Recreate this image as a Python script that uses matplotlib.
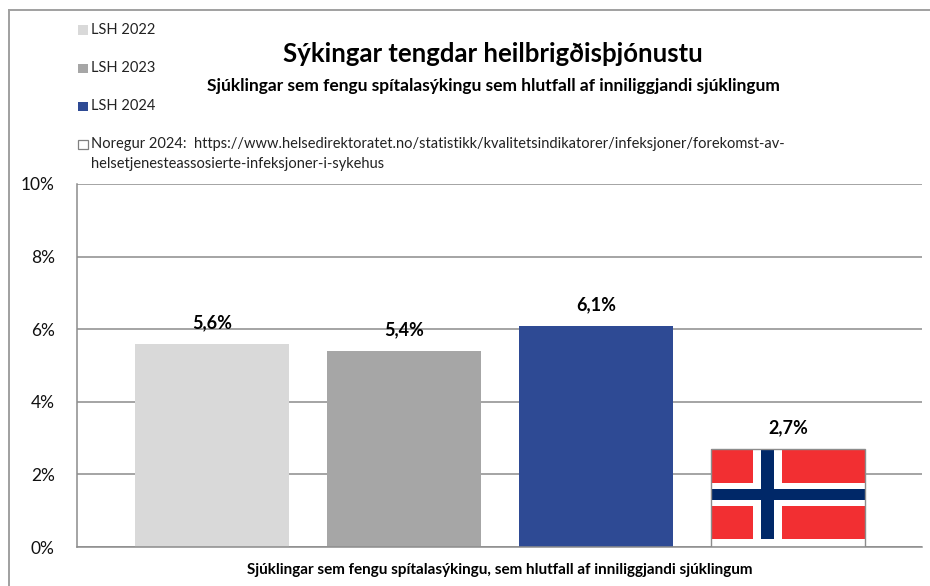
import matplotlib
matplotlib.use("Agg")
import matplotlib.pyplot as plt
from matplotlib.patches import Rectangle

series = ["LSH 2022", "LSH 2023", "LSH 2024"]
norway_note = ["Noregur 2024:  https://www.helsedirektoratet.no/statistikk/kvalitetsindikatorer/infeksjoner/forekomst-av-",
               "helsetjenesteassosierte-infeksjoner-i-sykehus"]
values = [5.6, 5.4, 6.1, 2.7]
labels = ["5,6%", "5,4%", "6,1%", "2,7%"]
yticks = [0, 2, 4, 6, 8, 10]
ytick_labels = ["0%", "2%", "4%", "6%", "8%", "10%"]
title = "Sýkingar tengdar heilbrigðisþjónustu"
subtitle = "Sjúklingar sem fengu spítalasýkingu sem hlutfall af inniliggjandi sjúklingum"
xlabel = "Sjúklingar sem fengu spítalasýkingu, sem hlutfall af inniliggjandi sjúklingum"

W, H = 930, 586
plt.rcParams['font.family'] = ['Lato', 'DejaVu Sans']
GRAY = "#8c8c8c"
colors = ["#d9d9d9", "#a6a6a6", "#2e4a94", "white"]

fig = plt.figure(figsize=(W / 100, H / 100), dpi=100, facecolor="white")
fx = lambda px: px / W
fy = lambda py: 1 - py / H

# chart frame
for (x0, y0, x1, y1) in [(9, 9.5, W, 9.5), (9, 9.5, 9, H)]:
    fig.add_artist(plt.Line2D([fx(x0), fx(x1)], [fy(y0), fy(y1)], color="#a0a0a0", lw=1.4))

ax = fig.add_axes([fx(77), fy(547), (922 - 77) / W, (547 - 184) / H])
ax.set_xlim(-0.703, 3.698)
ax.set_ylim(0, 10)
ax.set_axisbelow(True)
ax.grid(axis="y", color=GRAY, lw=1.1)
ax.set_yticks(yticks, ytick_labels, fontsize=12.5, color="#111111")
ax.set_xticks([])
ax.tick_params(axis="y", length=0, pad=16)
for s in ["top", "right"]:
    ax.spines[s].set_visible(False)
for s in ["left", "bottom"]:
    ax.spines[s].set_color(GRAY)
    ax.spines[s].set_linewidth(1.1)

xs = list(range(len(values)))
bars = ax.bar(xs, values, width=0.8, color=colors, zorder=2)

for b, lab in zip(bars, labels):
    ax.annotate(lab, (b.get_x() + b.get_width() / 2, b.get_height()), xytext=(0, 9),
                textcoords="offset points", ha="center", va="bottom",
                fontsize=13, fontweight="bold", color="black", zorder=5)

# Norwegian flag as the fill of the last bar, laid out as fractions of that bar
fb = bars[-1]
bx, bw, bh = fb.get_x(), fb.get_width(), fb.get_height()
def frect(u0, u1, v0, v1, color):
    ax.add_patch(Rectangle((bx + u0 * bw, bh * (1 - v1)), (u1 - u0) * bw, (v1 - v0) * bh,
                           facecolor=color, edgecolor="none", zorder=3))
RED, NAVY = "#f22f32", "#002868"
for u0, u1 in [(0.0, 0.27), (0.46, 1.0)]:
    for v0, v1 in [(0.0, 0.35), (0.58, 0.92)]:
        frect(u0, u1, v0, v1, RED)
frect(0.325, 0.41, 0.0, 0.92, NAVY)
frect(0.0, 1.0, 0.41, 0.52, NAVY)
ax.add_patch(Rectangle((bx, 0), bw, bh, facecolor="none", edgecolor=GRAY, lw=1.0, zorder=4))

# texts
fig.text(fx(493), fy(54), title, ha="center", va="center", fontsize=18.5, fontweight="bold", color="black")
fig.text(fx(493), fy(86), subtitle, ha="center", va="center", fontsize=12.5, fontweight="bold", color="black")
fig.text(fx(500), fy(570), xlabel, ha="center", va="center", fontsize=11, fontweight="bold", color="black")

# legend
for name, c, y in zip(series, colors, [30, 68, 106]):
    fig.add_artist(Rectangle((fx(78), fy(y + 4.5)), 10 / W, 9 / H, transform=fig.transFigure, facecolor=c, edgecolor="none"))
    fig.text(fx(91), fy(y), name, ha="left", va="center", fontsize=10.5, color="#222222")
fig.add_artist(Rectangle((fx(78), fy(148.5)), 9.5 / W, 8.5 / H, transform=fig.transFigure, facecolor="white", edgecolor="#808080", lw=0.9))
fig.text(fx(91), fy(144), norway_note[0], ha="left", va="center", fontsize=10.5, color="#222222")
fig.text(fx(91), fy(164), norway_note[1], ha="left", va="center", fontsize=10.5, color="#222222")

fig.savefig("out.png", dpi=100)
